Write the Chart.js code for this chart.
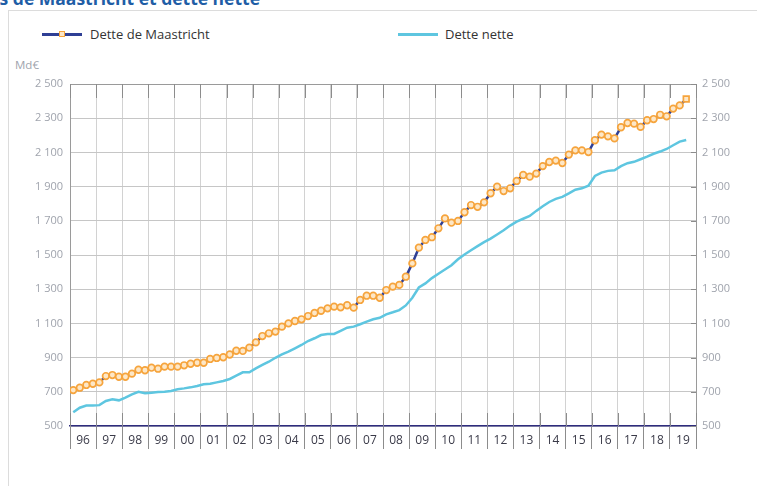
<!DOCTYPE html>
<html>
<head>
<meta charset="utf-8">
<script src="https://cdn.jsdelivr.net/npm/chart.js@4.4.0/dist/chart.umd.min.js"></script>
<style>
  html, body { margin: 0; padding: 0; background: #fff; }
  body { width: 757px; height: 486px; position: relative; overflow: hidden; font-family: "Open Sans", sans-serif; }
  #title { position: absolute; right: 497px; top: -10px; white-space: nowrap; font-size: 17.5px; line-height: 17.5px; font-weight: bold; color: #1f5ea6; }
  #frame { position: absolute; left: 8px; top: 10px; right: -2px; bottom: -2px; border-top: 1px solid #dcdcdc; border-left: 1px solid #dcdcdc; }
  #chart { position: absolute; left: 0; top: 0; }
  .leg { position: absolute; top: 25px; font-size: 13px; color: #333; line-height: 18px; }
  .leg .line { position: absolute; top: 8px; width: 40px; height: 3px; }
  .leg .sq { position: absolute; top: -2px; left: 17px; width: 4px; height: 4px; border: 1.5px solid #f6a43c; background: #fde7c7; }
  #unit { position: absolute; left: 15px; top: 57px; font-size: 11.5px; color: #a0a4ad; }
</style>
</head>
<body>
<div id="title">Dettes de Maastricht et dette nette</div>
<div id="frame"></div>
<div class="leg" style="left:90px"><span class="line" style="left:-48px;background:#2f3f95"><span class="sq"></span></span>Dette de Maastricht</div>
<div class="leg" style="left:445px"><span class="line" style="left:-47px;background:#5ec6e0"></span>Dette nette</div>
<div id="unit">Md€</div>
<canvas id="chart" width="757" height="486"></canvas>
<script>
// quarterly values, 1996 T1 -> 2019 T3 (Md€)
var firstYear = 1996;
var yearLabels = ['96','97','98','99','00','01','02','03','04','05','06','07','08','09','10','11','12','13','14','15','16','17','18','19'];

var detteMaastricht = [
	710, 724, 740, 747,   755, 792, 798, 788,   788, 806, 829, 826,   841, 835, 847, 847,
	847, 855, 864, 870,   870, 892, 898, 902,   918, 940, 939, 958,   989, 1026, 1042, 1052,
	1081, 1100, 1114, 1124,   1143, 1161, 1174, 1188,   1198, 1194, 1206, 1192,   1237, 1262, 1262, 1250,
	1295, 1315, 1325, 1373,   1451, 1543, 1588, 1604,   1656, 1714, 1689, 1699,   1750, 1792, 1782, 1808,
	1861, 1900, 1874, 1890,   1933, 1968, 1958, 1976,   2020, 2044, 2052, 2038,   2087, 2112, 2112, 2102,
	2171, 2204, 2194, 2182,   2247, 2272, 2268, 2249,   2288, 2295, 2320, 2311,   2356, 2375, 2412
];

var detteNette = [
	580, 607, 620, 620,   622, 646, 656, 650,   666, 685, 700, 691,   695, 699, 701, 705,
	715, 720, 726, 734,   744, 747, 755, 763,   775, 794, 814, 814,   837, 857, 876, 899,
	919, 935, 954, 974,   997, 1013, 1032, 1038,   1038, 1056, 1075, 1081,   1095, 1110, 1124, 1133,
	1153, 1165, 1178, 1205,   1250, 1310, 1334, 1365,   1390, 1415, 1440, 1475,   1503, 1528, 1552, 1575,
	1596, 1620, 1645, 1672,   1695, 1712, 1728, 1758,   1785, 1810, 1828, 1840,   1860, 1882, 1890, 1905,
	1962, 1982, 1992, 1995,   2020, 2037, 2045, 2060,   2075, 2092, 2105, 2120,   2142, 2163, 2172
];

var yMin = 500, yMax = 2500, yStep = 200;

// point sits in the middle of its quarter
var toPoints = function(values) {
	return values.map(function(v, i) {
		return { x: firstYear + (i + 0.5) / 4, y: v };
	});
};

var fmt = function(v) {
	var s = String(v);
	return s.length > 3 ? s.slice(0, -3) + ' ' + s.slice(-3) : s;
};

var isYear = function(ctx) {
	return ctx.tick && Number.isInteger(ctx.tick.value);
};

// short darker ticks inside the plot frame
var innerTicks = {
	id: 'innerTicks',
	afterDatasetsDraw: function(chart) {
		var a = chart.chartArea, c = chart.ctx;
		c.save();
		c.strokeStyle = '#8c8c8c';
		c.lineWidth = 1;
		c.beginPath();
		chart.scales.x.ticks.forEach(function(t) {
			if (!Number.isInteger(t.value)) return;
			var px = Math.round(chart.scales.x.getPixelForValue(t.value)) + 0.5;
			c.moveTo(px, a.top); c.lineTo(px, a.top + 14);
			c.moveTo(px, a.bottom - 13); c.lineTo(px, a.bottom);
		});
		chart.scales.y2.ticks.forEach(function(t) {
			var py = Math.round(chart.scales.y2.getPixelForValue(t.value)) + 0.5;
			c.moveTo(a.right - 5, py); c.lineTo(a.right, py);
		});
		c.stroke();
		c.restore();
	}
};

var ctx = document.getElementById('chart');

var chart = new Chart(ctx, {
	type: 'line',
	data: {
		datasets: [
			{
				label: 'Dette nette',
				data: toPoints(detteNette),
				borderColor: '#5ec6e0',
				borderWidth: 2.5,
				pointRadius: 0,
				fill: false,
				tension: 0
			},
			{
				label: 'Dette de Maastricht',
				data: toPoints(detteMaastricht),
				borderColor: '#2f3f95',
				borderWidth: 2.5,
				pointRadius: function(c) { return c.dataIndex === detteMaastricht.length - 1 ? 4 : 3.3; },
				pointStyle: function(c) { return c.dataIndex === detteMaastricht.length - 1 ? 'rect' : 'circle'; },
				pointBorderColor: '#f6a43c',
				pointBackgroundColor: '#fde7c7',
				pointBorderWidth: 1.7,
				fill: false,
				tension: 0
			}
		]
	},
	options: {
		responsive: false,
		animation: false,
		layout: { padding: { top: 84, left: 0, right: 0, bottom: 0 } },
		plugins: { legend: { display: false }, tooltip: { enabled: false } },
		scales: {
			x: {
				type: 'linear',
				min: firstYear,
				max: firstYear + yearLabels.length,
				afterBuildTicks: function(scale) {
					var t = [];
					yearLabels.forEach(function(l, i) {
						t.push({ value: firstYear + i });
						t.push({ value: firstYear + i + 0.5 });
					});
					t.push({ value: firstYear + yearLabels.length });
					scale.ticks = t;
				},
				afterFit: function(scale) { scale.height = 60; },
				grid: {
					color: function(c) { return isYear(c) ? '#d2d2d2' : 'rgba(0,0,0,0)'; },
					tickColor: function(c) { return isYear(c) ? '#8c8c8c' : 'rgba(0,0,0,0)'; },
					tickLength: 23,
					lineWidth: 1
				},
				border: { color: '#2e2c7e', width: 1.5 },
				ticks: {
					autoSkip: false,
					maxRotation: 0,
					padding: -16,
					color: '#3a3a48',
					font: { family: 'Open Sans', size: 12 },
					callback: function(v) {
						if (Number.isInteger(v)) return '';
						return yearLabels[Math.floor(v) - firstYear];
					}
				}
			},
			y: {
				position: 'left',
				min: yMin,
				max: yMax,
				afterFit: function(scale) { scale.width = 70; },
				grid: {
					color: function(c) { return c.tick.value === yMax ? '#9a9a9a' : '#c6c6c6'; },
					drawTicks: false
				},
				border: { color: '#9a9a9a' },
				ticks: {
					stepSize: yStep,
					padding: 7,
					color: '#a0a4ad',
					font: { family: 'Open Sans', size: 11 },
					callback: function(v) { return fmt(v); }
				}
			},
			y2: {
				position: 'right',
				min: yMin,
				max: yMax,
				afterFit: function(scale) { scale.width = 61; },
				grid: { drawOnChartArea: false, drawTicks: false },
				border: { color: '#9a9a9a' },
				ticks: {
					stepSize: yStep,
					padding: 6,
					color: '#a0a4ad',
					font: { family: 'Open Sans', size: 11 },
					callback: function(v) { return fmt(v); }
				}
			}
		}
	},
	plugins: [innerTicks]
});
</script>
</body>
</html>
